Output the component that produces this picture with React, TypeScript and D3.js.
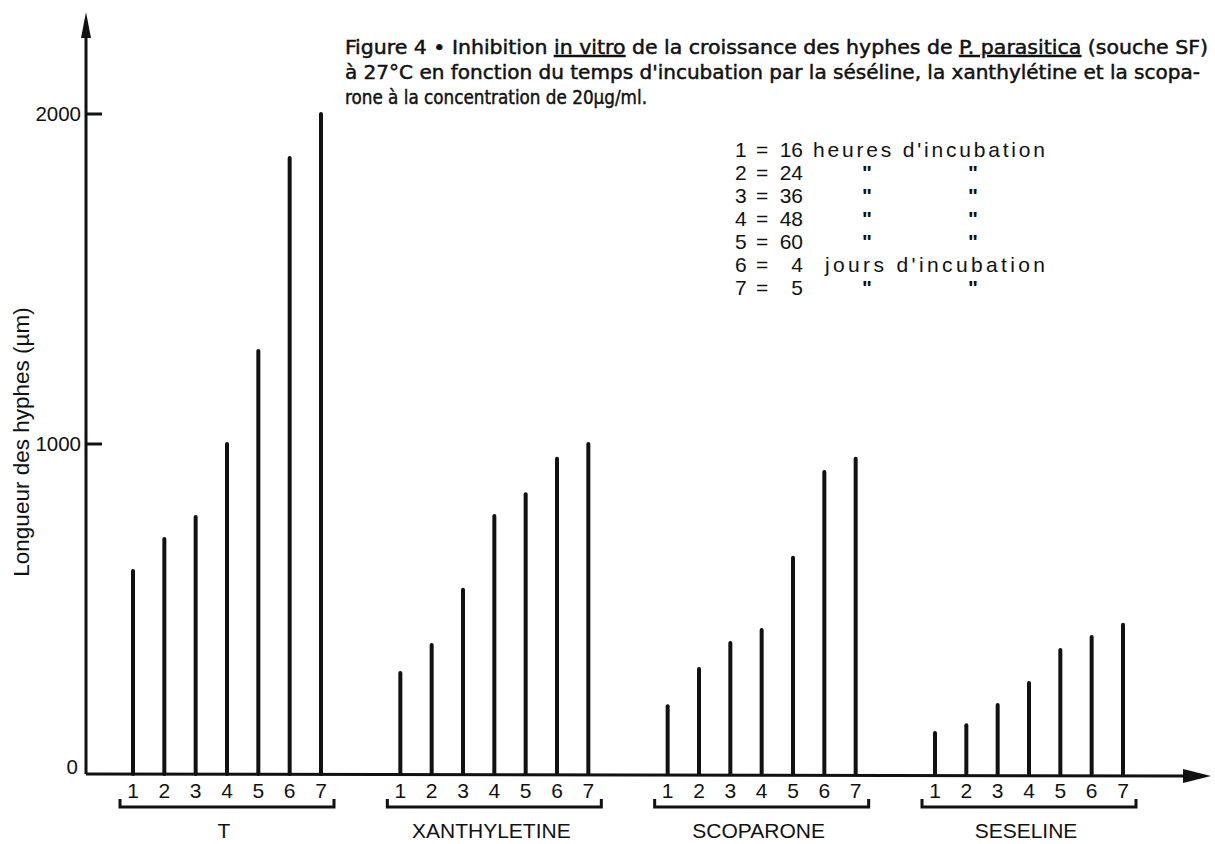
import * as d3 from "d3";

// values (µm)
const groups = ["T", "XANTHYLETINE", "SCOPARONE", "SESELINE"];
const times = ["1", "2", "3", "4", "5", "6", "7"];
const valuesT = [615, 712, 779, 1000, 1282, 1867, 2000];
const valuesXanthyletine = [306, 391, 558, 782, 848, 955, 1000];
const valuesScoparone = [205, 318, 397, 436, 655, 915, 955];
const valuesSeseline = [124, 148, 209, 276, 376, 415, 452];
const yTicks = [1000, 2000];

const legendNums = ["1", "2", "3", "4", "5", "6", "7"];
const legendVals = ["16", "24", "36", "48", "60", "4", "5"];
const legendUnits = ["heures d'incubation", null, null, null, null, "jours d'incubation", null];

const W = 1215;
const H = 844;
const AXIS_X = 86;
const sans = "'Liberation Sans', Arial, Helvetica, sans-serif";
const narrow = "'Liberation Sans Narrow', 'DejaVu Sans Condensed', 'Roboto Condensed', sans-serif";

export default function App() {
  const y = d3.scaleLinear().domain([0, 2000]).range([774, 114]);
  const gx = d3.scalePoint().domain(groups).range([227, 1029]);
  const bx = d3.scalePoint().domain(times).range([-94, 94]);

  const series = [valuesT, valuesXanthyletine, valuesScoparone, valuesSeseline];
  const base = y(0);

  return (
    <svg
      width={W}
      height={H}
      style={{ position: "absolute", left: 0, top: 0, background: "#fff" }}
    >
      {/* y axis with arrow */}
      <line x1={AXIS_X} x2={AXIS_X} y1={base} y2={30} stroke="#111" strokeWidth={3} />
      <polygon
        points={`${AXIS_X},12 ${AXIS_X - 5},38 ${AXIS_X + 5},38`}
        fill="#111"
      />
      {yTicks.map((t) => (
        <g key={t}>
          <line x1={AXIS_X} x2={AXIS_X + 16} y1={y(t)} y2={y(t)} stroke="#111" strokeWidth={3} />
          <text
            x={AXIS_X - 5}
            y={y(t) + 7}
            textAnchor="end"
            fontFamily={sans}
            fontSize={20.5}
            fill="#111"
          >
            {t}
          </text>
        </g>
      ))}
      <text
        x={AXIS_X - 8}
        y={base}
        textAnchor="end"
        fontFamily={sans}
        fontSize={20.5}
        fill="#111"
      >
        0
      </text>
      <text
        transform={`translate(29,${442}) rotate(-90)`}
        textAnchor="middle"
        fontFamily={sans}
        fontSize={22.5}
        fill="#111"
      >
        Longueur des hyphes (µm)
      </text>

      {/* x axis with arrow */}
      <line x1={AXIS_X} x2={1190} y1={base} y2={base + 2} stroke="#111" strokeWidth={3} />
      <polygon points={`1211,${base + 2} 1183,${base - 5} 1183,${base + 9}`} fill="#111" />

      {/* bars */}
      {groups.map((g, gi) => {
        const cx = gx(g) as number;
        const first = cx + (bx(times[0]) as number);
        const last = cx + (bx(times[times.length - 1]) as number);
        return (
          <g key={g}>
            {series[gi].map((v, i) => {
              const x = cx + (bx(times[i]) as number);
              return (
                <line
                  key={i}
                  x1={x}
                  x2={x}
                  y1={base}
                  y2={y(v)}
                  stroke="#111"
                  strokeWidth={4}
                  strokeLinecap="round"
                />
              );
            })}
            {times.map((t) => (
              <text
                key={t}
                x={cx + (bx(t) as number)}
                y={798}
                textAnchor="middle"
                fontFamily={sans}
                fontSize={21}
                fill="#111"
              >
                {t}
              </text>
            ))}
            <path
              d={`M${first - 13},799 L${first - 13},807 L${last + 13},807 L${last + 13},799`}
              fill="none"
              stroke="#111"
              strokeWidth={3}
            />
            <text
              x={cx - 3}
              y={838}
              textAnchor="middle"
              fontFamily={sans}
              fontSize={21}
              fill="#111"
            >
              {g}
            </text>
          </g>
        );
      })}

      {/* caption */}
      <g fontFamily={narrow} fontSize={20} fill="#111" stroke="#111" strokeWidth={0.45}>
        <text x={345} y={54} textLength={863} lengthAdjust="spacingAndGlyphs">
          Figure 4 • Inhibition{" "}
          <tspan style={{ textDecoration: "underline" }}>in vitro</tspan> de la croissance des
          hyphes de <tspan style={{ textDecoration: "underline" }}>P. parasitica</tspan> (souche
          SF)
        </text>
        <text x={345} y={79} textLength={855} lengthAdjust="spacingAndGlyphs">
          à 27°C en fonction du temps d'incubation par la séséline, la xanthylétine et la scopa-
        </text>
        <text x={345} y={104} textLength={302} lengthAdjust="spacingAndGlyphs">
          rone à la concentration de 20µg/ml.
        </text>
      </g>

      {/* legend */}
      <g fontFamily={sans} fontSize={21} fill="#111">
        {legendNums.map((n, i) => {
          const ry = 157 + i * 23;
          const unit = legendUnits[i];
          return (
            <g key={n}>
              <text x={735} y={ry}>{n}</text>
              <text x={756} y={ry}>=</text>
              <text x={803} y={ry} textAnchor="end">{legendVals[i]}</text>
              {unit ? (
                <text
                  x={i === 0 ? 813 : 825}
                  y={ry}
                  textLength={i === 0 ? 232 : 220}
                  lengthAdjust="spacing"
                >
                  {unit}
                </text>
              ) : (
                <>
                  <text x={862} y={ry} fontWeight="bold">"</text>
                  <text x={968} y={ry} fontWeight="bold">"</text>
                </>
              )}
            </g>
          );
        })}
      </g>
    </svg>
  );
}
